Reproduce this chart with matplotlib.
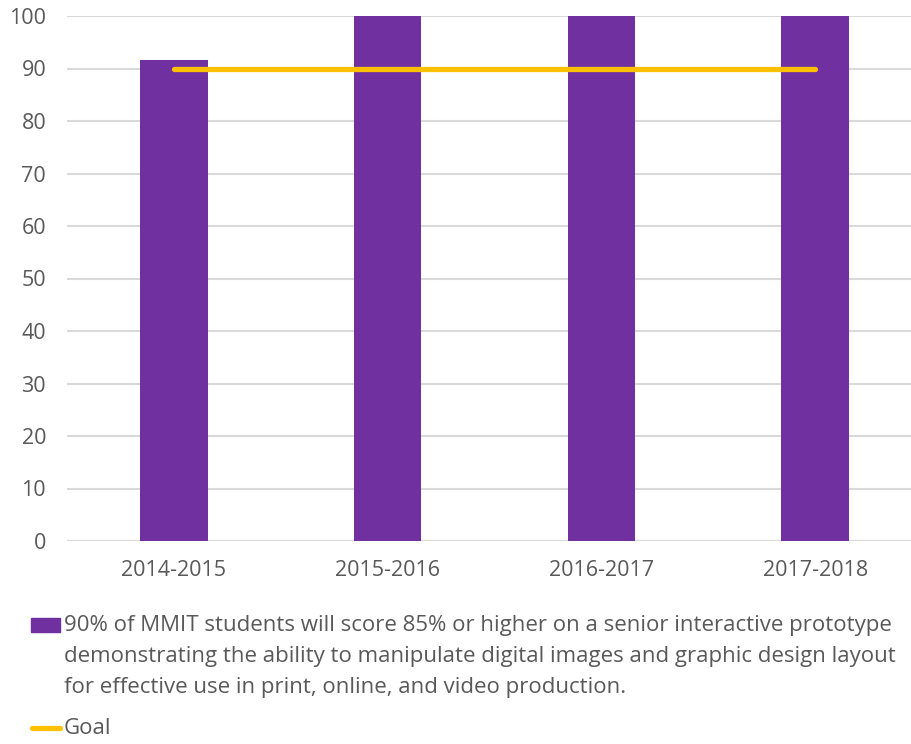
import matplotlib
matplotlib.use("Agg")
import matplotlib.pyplot as plt
from matplotlib.patches import Rectangle
from matplotlib.lines import Line2D

# school years and results
years = ["2014-2015", "2015-2016", "2016-2017", "2017-2018"]
scores = [91.6, 100, 100, 100]
goal = [90, 90, 90, 90]

outcome_label = ("90% of MMIT students will score 85% or higher on a senior interactive prototype\n"
                 "demonstrating the ability to manipulate digital images and graphic design layout\n"
                 "for effective use in print, online, and video production.")
goal_label = "Goal"

PURPLE = "#7030A0"
GOLD = "#FFC000"
TEXT = "#595959"
GRID = "#D9D9D9"

plt.rcParams["font.family"] = ["Open Sans", "DejaVu Sans"]

fig = plt.figure(figsize=(9.12, 7.44), dpi=100)
ax = fig.add_axes([67 / 912, 203 / 744, 855 / 912, 525 / 744])

x = list(range(len(years)))
ax.bar(x, scores, width=0.315, color=PURPLE, zorder=2)
ax.plot(x, goal, color=GOLD, linewidth=3.8, solid_capstyle="round", zorder=3)

ax.set_xlim(-0.5, 3.5)
ax.set_ylim(0, 100)
ax.set_yticks(range(0, 101, 10))
ax.set_xticks(x)
ax.set_xticklabels(years)
ax.tick_params(axis="both", length=0, labelsize=15.5, colors=TEXT)
ax.tick_params(axis="x", pad=14)
ax.tick_params(axis="y", pad=15)
ax.grid(axis="y", color=GRID, linewidth=1.5, zorder=0)
ax.set_axisbelow(True)
for side in ["top", "right", "left", "bottom"]:
    ax.spines[side].set_visible(False)
ax.axhline(0, color=GRID, linewidth=1.5, zorder=1)

# legend drawn below the axes
fig.patches.append(Rectangle((31 / 912, 1 - 632 / 744), 29 / 912, 14 / 744,
                             transform=fig.transFigure, color=PURPLE))
fig.text(64 / 912, 1 - 615 / 744, outcome_label, fontsize=16, color=TEXT,
         va="top", ha="left", linespacing=1.63)
fig.lines.append(Line2D([32 / 912, 60 / 912], [1 - 728 / 744, 1 - 728 / 744],
                        transform=fig.transFigure, color=GOLD, linewidth=3.8,
                        solid_capstyle="round"))
fig.text(64 / 912, 1 - 729 / 744, goal_label, fontsize=16, color=TEXT,
         va="center", ha="left")

fig.savefig("out.png", dpi=100)
